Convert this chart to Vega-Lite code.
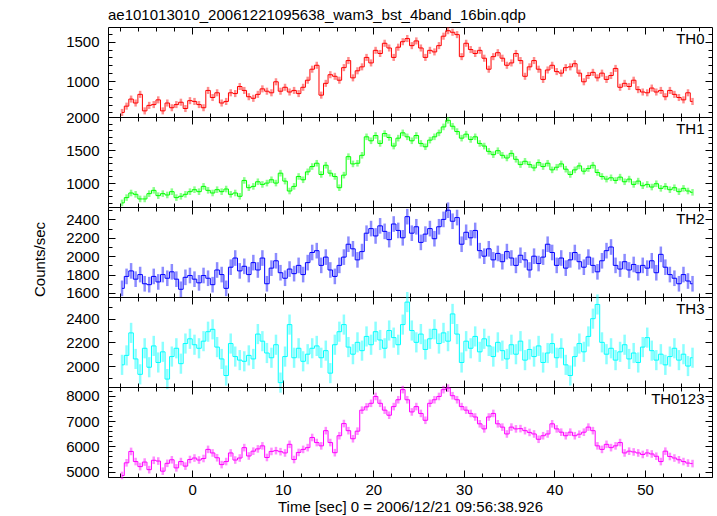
{
"$schema":"https://vega.github.io/schema/vega-lite/v6.json",
"background":"white",
"padding":{"left":31,"top":7,"right":5,"bottom":0},
"autosize":{"type":"pad"},
"spacing":0,
"bounds":"flush",
"datasets":{
"err":[{"k":"a","err":45},{"k":"b","err":50},{"k":"c","err":85},{"k":"d","err":85},{"k":"e","err":150}],
"lc":[
{"t":-7.75,"a":600,"b":700,"c":1650,"d":2010,"e":4850},
{"t":-7.25,"a":680,"b":780,"c":1780,"d":2090,"e":5350},
{"t":-6.75,"a":770,"b":850,"c":1840,"d":2280,"e":5800},
{"t":-6.25,"a":720,"b":830,"c":1750,"d":2060,"e":5400},
{"t":-5.75,"a":830,"b":760,"c":1800,"d":1930,"e":5200},
{"t":-5.25,"a":620,"b":760,"c":1700,"d":2150,"e":5380},
{"t":-4.75,"a":690,"b":840,"c":1690,"d":1990,"e":5080},
{"t":-4.25,"a":700,"b":890,"c":1780,"d":2170,"e":5450},
{"t":-3.75,"a":760,"b":810,"c":1720,"d":2030,"e":5420},
{"t":-3.25,"a":620,"b":840,"c":1800,"d":2120,"e":5020},
{"t":-2.75,"a":720,"b":820,"c":1760,"d":1890,"e":5330},
{"t":-2.25,"a":660,"b":870,"c":1830,"d":2080,"e":5470},
{"t":-1.75,"a":700,"b":780,"c":1750,"d":2150,"e":5150},
{"t":-1.25,"a":730,"b":800,"c":1640,"d":2020,"e":5400},
{"t":-0.75,"a":650,"b":830,"c":1770,"d":2190,"e":5220},
{"t":-0.25,"a":750,"b":870,"c":1790,"d":2230,"e":5480},
{"t":0.25,"a":740,"b":900,"c":1750,"d":2180,"e":5540},
{"t":0.75,"a":700,"b":870,"c":1710,"d":2150,"e":5460},
{"t":1.25,"a":660,"b":950,"c":1790,"d":2210,"e":5520},
{"t":1.75,"a":880,"b":890,"c":1760,"d":2290,"e":5880},
{"t":2.25,"a":790,"b":850,"c":1690,"d":2310,"e":5740},
{"t":2.75,"a":850,"b":900,"c":1850,"d":2160,"e":5550},
{"t":3.25,"a":720,"b":870,"c":1800,"d":2060,"e":5280},
{"t":3.75,"a":740,"b":910,"c":1650,"d":1920,"e":5400},
{"t":4.25,"a":850,"b":830,"c":1880,"d":2190,"e":5740},
{"t":4.75,"a":840,"b":850,"c":1980,"d":2080,"e":5460},
{"t":5.25,"a":930,"b":800,"c":1840,"d":2050,"e":5540},
{"t":5.75,"a":880,"b":1040,"c":1890,"d":2040,"e":5950},
{"t":6.25,"a":800,"b":930,"c":1800,"d":2090,"e":5620},
{"t":6.75,"a":780,"b":950,"c":1930,"d":2060,"e":5810},
{"t":7.25,"a":830,"b":1020,"c":1850,"d":2270,"e":5900},
{"t":7.75,"a":900,"b":980,"c":1980,"d":2210,"e":6020},
{"t":8.25,"a":870,"b":1000,"c":1700,"d":2110,"e":5560},
{"t":8.75,"a":850,"b":1050,"c":1870,"d":2070,"e":5800},
{"t":9.25,"a":990,"b":1000,"c":1950,"d":2180,"e":5830},
{"t":9.75,"a":870,"b":1150,"c":1820,"d":1860,"e":5790},
{"t":10.25,"a":920,"b":1030,"c":1760,"d":2080,"e":5740},
{"t":10.75,"a":860,"b":880,"c":1860,"d":2350,"e":6080},
{"t":11.25,"a":880,"b":950,"c":1810,"d":2070,"e":5480},
{"t":11.75,"a":840,"b":1100,"c":1900,"d":2150,"e":5760},
{"t":12.25,"a":920,"b":1050,"c":1800,"d":2040,"e":5880},
{"t":12.75,"a":1010,"b":1170,"c":1930,"d":2100,"e":5950},
{"t":13.25,"a":1150,"b":1250,"c":2040,"d":2150,"e":6350},
{"t":13.75,"a":1200,"b":1300,"c":2060,"d":2170,"e":6150},
{"t":14.25,"a":820,"b":1130,"c":1900,"d":2070,"e":6020},
{"t":14.75,"a":970,"b":1270,"c":1990,"d":2130,"e":6620},
{"t":15.25,"a":1080,"b":1150,"c":1850,"d":1940,"e":6150},
{"t":15.75,"a":1060,"b":1100,"c":1780,"d":2180,"e":5750},
{"t":16.25,"a":1010,"b":930,"c":1900,"d":2290,"e":6420},
{"t":16.75,"a":1170,"b":1120,"c":1990,"d":2350,"e":6900},
{"t":17.25,"a":1260,"b":1400,"c":2130,"d":2160,"e":6620},
{"t":17.75,"a":1040,"b":1290,"c":2080,"d":2100,"e":6300},
{"t":18.25,"a":1130,"b":1300,"c":1960,"d":2200,"e":6600},
{"t":18.75,"a":1180,"b":1420,"c":2050,"d":2130,"e":7430},
{"t":19.25,"a":1300,"b":1700,"c":2250,"d":2250,"e":7560},
{"t":19.75,"a":1230,"b":1640,"c":2300,"d":2180,"e":7700},
{"t":20.25,"a":1390,"b":1720,"c":2220,"d":2290,"e":7970},
{"t":20.75,"a":1350,"b":1600,"c":2330,"d":2220,"e":7700},
{"t":21.25,"a":1480,"b":1750,"c":2270,"d":2150,"e":7430},
{"t":21.75,"a":1420,"b":1690,"c":2180,"d":2300,"e":7230},
{"t":22.25,"a":1300,"b":1560,"c":2350,"d":2240,"e":7570},
{"t":22.75,"a":1430,"b":1680,"c":2280,"d":2180,"e":7840},
{"t":23.25,"a":1500,"b":1760,"c":2200,"d":2350,"e":8240},
{"t":23.75,"a":1540,"b":1700,"c":2430,"d":2540,"e":7840},
{"t":24.25,"a":1450,"b":1640,"c":2250,"d":2300,"e":7360},
{"t":24.75,"a":1510,"b":1720,"c":2320,"d":2200,"e":7570},
{"t":25.25,"a":1420,"b":1600,"c":2150,"d":2270,"e":7300},
{"t":25.75,"a":1300,"b":1550,"c":2240,"d":2140,"e":7030},
{"t":26.25,"a":1390,"b":1650,"c":2300,"d":2230,"e":7700},
{"t":26.75,"a":1370,"b":1700,"c":2190,"d":2310,"e":7840},
{"t":27.25,"a":1450,"b":1760,"c":2320,"d":2190,"e":7970},
{"t":27.75,"a":1570,"b":1850,"c":2400,"d":2280,"e":8240},
{"t":28.25,"a":1640,"b":1950,"c":2500,"d":2210,"e":8300},
{"t":28.75,"a":1620,"b":1860,"c":2380,"d":2440,"e":8000},
{"t":29.25,"a":1590,"b":1780,"c":2420,"d":2270,"e":7840},
{"t":29.75,"a":1310,"b":1680,"c":2130,"d":2030,"e":7570},
{"t":30.25,"a":1480,"b":1740,"c":2260,"d":2210,"e":7430},
{"t":30.75,"a":1400,"b":1660,"c":2200,"d":2150,"e":7300},
{"t":31.25,"a":1350,"b":1700,"c":2280,"d":2250,"e":7160},
{"t":31.75,"a":1390,"b":1600,"c":2060,"d":2120,"e":6890},
{"t":32.25,"a":1290,"b":1560,"c":2000,"d":2230,"e":6690},
{"t":32.75,"a":1150,"b":1480,"c":2080,"d":2170,"e":7160},
{"t":33.25,"a":1310,"b":1430,"c":1960,"d":2080,"e":7300},
{"t":33.75,"a":1360,"b":1490,"c":2030,"d":2200,"e":6890},
{"t":34.25,"a":1290,"b":1420,"c":1940,"d":2130,"e":6760},
{"t":34.75,"a":1200,"b":1380,"c":2050,"d":2060,"e":6490},
{"t":35.25,"a":1230,"b":1450,"c":1980,"d":2180,"e":6760},
{"t":35.75,"a":1350,"b":1360,"c":1900,"d":2100,"e":6690},
{"t":36.25,"a":1260,"b":1280,"c":2010,"d":2210,"e":6700},
{"t":36.75,"a":1060,"b":1330,"c":1960,"d":2050,"e":6620},
{"t":37.25,"a":1180,"b":1280,"c":1850,"d":2140,"e":6550},
{"t":37.75,"a":1260,"b":1230,"c":2000,"d":2080,"e":6490},
{"t":38.25,"a":1150,"b":1310,"c":1920,"d":2170,"e":6280},
{"t":38.75,"a":1020,"b":1250,"c":1990,"d":2030,"e":6420},
{"t":39.25,"a":1140,"b":1300,"c":2130,"d":2110,"e":6490},
{"t":39.75,"a":1200,"b":1200,"c":2040,"d":2190,"e":6890},
{"t":40.25,"a":1120,"b":1240,"c":1900,"d":2070,"e":6690},
{"t":40.75,"a":1100,"b":1290,"c":1980,"d":2150,"e":6560},
{"t":41.25,"a":1170,"b":1210,"c":1870,"d":2010,"e":6420},
{"t":41.75,"a":1180,"b":1130,"c":1960,"d":1920,"e":6560},
{"t":42.25,"a":1220,"b":1200,"c":2040,"d":2080,"e":6420},
{"t":42.75,"a":1100,"b":1260,"c":1940,"d":2190,"e":6480},
{"t":43.25,"a":990,"b":1180,"c":1880,"d":2120,"e":6560},
{"t":43.75,"a":1070,"b":1220,"c":1990,"d":2250,"e":6760},
{"t":44.25,"a":1110,"b":1270,"c":1900,"d":2400,"e":6620},
{"t":44.75,"a":1040,"b":1160,"c":1830,"d":2520,"e":6020},
{"t":45.25,"a":1100,"b":1100,"c":1950,"d":2200,"e":5880},
{"t":45.75,"a":1020,"b":1060,"c":2060,"d":2100,"e":6080},
{"t":46.25,"a":1070,"b":1080,"c":2100,"d":2150,"e":5950},
{"t":46.75,"a":1160,"b":1040,"c":1900,"d":2050,"e":6020},
{"t":47.25,"a":920,"b":1090,"c":1860,"d":2120,"e":6150},
{"t":47.75,"a":970,"b":1020,"c":1940,"d":2180,"e":5740},
{"t":48.25,"a":930,"b":1060,"c":1850,"d":2060,"e":5810},
{"t":48.75,"a":1010,"b":980,"c":1910,"d":2110,"e":5780},
{"t":49.25,"a":890,"b":1030,"c":1820,"d":2030,"e":5740},
{"t":49.75,"a":860,"b":960,"c":1900,"d":2160,"e":5680},
{"t":50.25,"a":850,"b":980,"c":1870,"d":2240,"e":5740},
{"t":50.75,"a":910,"b":940,"c":1950,"d":2130,"e":5700},
{"t":51.25,"a":860,"b":990,"c":1820,"d":2050,"e":5610},
{"t":51.75,"a":880,"b":920,"c":2020,"d":2100,"e":5400},
{"t":52.25,"a":800,"b":950,"c":1880,"d":2010,"e":5810},
{"t":52.75,"a":880,"b":900,"c":1800,"d":2080,"e":5600},
{"t":53.25,"a":830,"b":930,"c":1760,"d":2150,"e":5540},
{"t":53.75,"a":790,"b":870,"c":1700,"d":2050,"e":5470},
{"t":54.25,"a":760,"b":920,"c":1800,"d":2100,"e":5400},
{"t":54.75,"a":850,"b":880,"c":1730,"d":2000,"e":5340},
{"t":55.25,"a":740,"b":860,"c":1700,"d":2070,"e":5320}
]},
"vconcat":[
{"width":604,"height":90,"data":{"name":"lc"},
 "transform":[{"fold":["a","b","c","d","e"],"as":["k","v"]},{"filter":"datum.k==='a'"},{"lookup":"k","from":{"data":{"name":"err"},"key":"k","fields":["err"]}}],
 "title":{"text":"ae101013010_20061221095638_wam3_bst_4band_16bin.qdp","anchor":"start","frame":"group","offset":-9,"baseline":"alphabetic","fontSize":15,"fontWeight":"normal","font":"Liberation Sans","color":"#000"},
 "resolve":{"axis":{"x":"independent","y":"independent"}},
 "layer":[
  {"mark":{"type":"errorbar","color":"#ff0000","opacity":0.45,"thickness":2.5},
   "encoding":{"x":{"field":"t","type":"quantitative","scale":{"domain":[-9.3,57.4],"nice":false,"zero":false},"axis":null},
    "y":{"field":"v","type":"quantitative","scale":{"domain":[542,1687],"nice":false,"zero":false},"axis":{"orient":"left","values":[1000,1500],"format":"d","ticks":false,"labelPadding":9,"title":null}},
    "yError":{"field":"err"}}},
  {"mark":{"type":"line","interpolate":"step","color":"#ff0000","strokeWidth":1},
   "encoding":{"x":{"field":"t","type":"quantitative","axis":{"orient":"bottom","values":[0,10,20,30,40,50],"labels":false,"tickSize":-7,"title":null}},
    "y":{"field":"v","type":"quantitative","axis":{"orient":"left","values":[1000,1500],"labels":false,"tickSize":-7,"title":null}}}},
  {"mark":{"type":"line","opacity":0},
   "encoding":{"x":{"field":"t","type":"quantitative","axis":{"orient":"bottom","values":[-8,-6,-4,-2,0,2,4,6,8,10,12,14,16,18,20,22,24,26,28,30,32,34,36,38,40,42,44,46,48,50,52,54,56],"labels":false,"tickSize":-4,"title":null}},
    "y":{"field":"v","type":"quantitative","axis":{"orient":"left","values":[600,700,800,900,1000,1100,1200,1300,1400,1500,1600],"labels":false,"tickSize":-4,"title":null}}}},
  {"mark":{"type":"line","opacity":0},
   "encoding":{"x":{"field":"t","type":"quantitative","axis":{"orient":"top","values":[0,10,20,30,40,50],"labels":false,"tickSize":-7,"title":null}},
    "y":{"field":"v","type":"quantitative","axis":{"orient":"right","values":[1000,1500],"labels":false,"tickSize":-7,"title":"TH0","titleAngle":0,"titleAlign":"right","titleBaseline":"alphabetic","titleX":-8,"titleY":16}}}},
  {"mark":{"type":"line","opacity":0},
   "encoding":{"x":{"field":"t","type":"quantitative","axis":{"orient":"top","values":[-8,-6,-4,-2,0,2,4,6,8,10,12,14,16,18,20,22,24,26,28,30,32,34,36,38,40,42,44,46,48,50,52,54,56],"labels":false,"tickSize":-4,"title":null}},
    "y":{"field":"v","type":"quantitative","axis":{"orient":"right","values":[600,700,800,900,1000,1100,1200,1300,1400,1500,1600],"labels":false,"tickSize":-4,"title":null}}}}
 ]},
{"width":604,"height":90,"data":{"name":"lc"},
 "transform":[{"fold":["a","b","c","d","e"],"as":["k","v"]},{"filter":"datum.k==='b'"},{"lookup":"k","from":{"data":{"name":"err"},"key":"k","fields":["err"]}}],
 "resolve":{"axis":{"x":"independent","y":"independent"}},
 "layer":[
  {"mark":{"type":"errorbar","color":"#00ff00","opacity":0.45,"thickness":2.5},
   "encoding":{"x":{"field":"t","type":"quantitative","scale":{"domain":[-9.3,57.4],"nice":false,"zero":false},"axis":null},
    "y":{"field":"v","type":"quantitative","scale":{"domain":[638,2000],"nice":false,"zero":false},"axis":{"orient":"left","values":[1000,1500,2000],"format":"d","ticks":false,"labelPadding":9,"title":null}},
    "yError":{"field":"err"}}},
  {"mark":{"type":"line","interpolate":"step","color":"#00ff00","strokeWidth":1},
   "encoding":{"x":{"field":"t","type":"quantitative","axis":{"orient":"bottom","values":[0,10,20,30,40,50],"labels":false,"tickSize":-7,"title":null}},
    "y":{"field":"v","type":"quantitative","axis":{"orient":"left","values":[1000,1500,2000],"labels":false,"tickSize":-7,"title":null}}}},
  {"mark":{"type":"line","opacity":0},
   "encoding":{"x":{"field":"t","type":"quantitative","axis":{"orient":"bottom","values":[-8,-6,-4,-2,0,2,4,6,8,10,12,14,16,18,20,22,24,26,28,30,32,34,36,38,40,42,44,46,48,50,52,54,56],"labels":false,"tickSize":-4,"title":null}},
    "y":{"field":"v","type":"quantitative","axis":{"orient":"left","values":[700,800,900,1000,1100,1200,1300,1400,1500,1600,1700,1800,1900,2000],"labels":false,"tickSize":-4,"title":null}}}},
  {"mark":{"type":"line","opacity":0},
   "encoding":{"x":{"field":"t","type":"quantitative","axis":{"orient":"top","values":[0,10,20,30,40,50],"labels":false,"tickSize":-7,"title":null}},
    "y":{"field":"v","type":"quantitative","axis":{"orient":"right","values":[1000,1500,2000],"labels":false,"tickSize":-7,"title":"TH1","titleAngle":0,"titleAlign":"right","titleBaseline":"alphabetic","titleX":-8,"titleY":16}}}},
  {"mark":{"type":"line","opacity":0},
   "encoding":{"x":{"field":"t","type":"quantitative","axis":{"orient":"top","values":[-8,-6,-4,-2,0,2,4,6,8,10,12,14,16,18,20,22,24,26,28,30,32,34,36,38,40,42,44,46,48,50,52,54,56],"labels":false,"tickSize":-4,"title":null}},
    "y":{"field":"v","type":"quantitative","axis":{"orient":"right","values":[700,800,900,1000,1100,1200,1300,1400,1500,1600,1700,1800,1900,2000],"labels":false,"tickSize":-4,"title":null}}}}
 ]},
{"width":604,"height":90,"data":{"name":"lc"},
 "transform":[{"fold":["a","b","c","d","e"],"as":["k","v"]},{"filter":"datum.k==='c'"},{"lookup":"k","from":{"data":{"name":"err"},"key":"k","fields":["err"]}}],
 "resolve":{"axis":{"x":"independent","y":"independent"}},
 "layer":[
  {"mark":{"type":"errorbar","color":"#0000ff","opacity":0.45,"thickness":2.5},
   "encoding":{"x":{"field":"t","type":"quantitative","scale":{"domain":[-9.3,57.4],"nice":false,"zero":false},"axis":null},
    "y":{"field":"v","type":"quantitative","scale":{"domain":[1556,2535],"nice":false,"zero":false},"axis":{"orient":"left","values":[1600,1800,2000,2200,2400],"format":"d","ticks":false,"labelPadding":9,"title":"Counts/sec","titleX":-64,"titleY":52,"titleAngle":-90,"titleBaseline":"alphabetic","titleAlign":"center"}},
    "yError":{"field":"err"}}},
  {"mark":{"type":"line","interpolate":"step","color":"#0000ff","strokeWidth":1},
   "encoding":{"x":{"field":"t","type":"quantitative","axis":{"orient":"bottom","values":[0,10,20,30,40,50],"labels":false,"tickSize":-7,"title":null}},
    "y":{"field":"v","type":"quantitative","axis":{"orient":"left","values":[1600,1800,2000,2200,2400],"labels":false,"tickSize":-7,"title":null}}}},
  {"mark":{"type":"line","opacity":0},
   "encoding":{"x":{"field":"t","type":"quantitative","axis":{"orient":"bottom","values":[-8,-6,-4,-2,0,2,4,6,8,10,12,14,16,18,20,22,24,26,28,30,32,34,36,38,40,42,44,46,48,50,52,54,56],"labels":false,"tickSize":-4,"title":null}},
    "y":{"field":"v","type":"quantitative","axis":{"orient":"left","values":[1600,1700,1800,1900,2000,2100,2200,2300,2400,2500],"labels":false,"tickSize":-4,"title":null}}}},
  {"mark":{"type":"line","opacity":0},
   "encoding":{"x":{"field":"t","type":"quantitative","axis":{"orient":"top","values":[0,10,20,30,40,50],"labels":false,"tickSize":-7,"title":null}},
    "y":{"field":"v","type":"quantitative","axis":{"orient":"right","values":[1600,1800,2000,2200,2400],"labels":false,"tickSize":-7,"title":"TH2","titleAngle":0,"titleAlign":"right","titleBaseline":"alphabetic","titleX":-8,"titleY":16}}}},
  {"mark":{"type":"line","opacity":0},
   "encoding":{"x":{"field":"t","type":"quantitative","axis":{"orient":"top","values":[-8,-6,-4,-2,0,2,4,6,8,10,12,14,16,18,20,22,24,26,28,30,32,34,36,38,40,42,44,46,48,50,52,54,56],"labels":false,"tickSize":-4,"title":null}},
    "y":{"field":"v","type":"quantitative","axis":{"orient":"right","values":[1600,1700,1800,1900,2000,2100,2200,2300,2400,2500],"labels":false,"tickSize":-4,"title":null}}}}
 ]},
{"width":604,"height":90,"data":{"name":"lc"},
 "transform":[{"fold":["a","b","c","d","e"],"as":["k","v"]},{"filter":"datum.k==='d'"},{"lookup":"k","from":{"data":{"name":"err"},"key":"k","fields":["err"]}}],
 "resolve":{"axis":{"x":"independent","y":"independent"}},
 "layer":[
  {"mark":{"type":"errorbar","color":"#00ffff","opacity":0.45,"thickness":2.5},
   "encoding":{"x":{"field":"t","type":"quantitative","scale":{"domain":[-9.3,57.4],"nice":false,"zero":false},"axis":null},
    "y":{"field":"v","type":"quantitative","scale":{"domain":[1823,2583],"nice":false,"zero":false},"axis":{"orient":"left","values":[2000,2200,2400],"format":"d","ticks":false,"labelPadding":9,"title":null}},
    "yError":{"field":"err"}}},
  {"mark":{"type":"line","interpolate":"step","color":"#00ffff","strokeWidth":1},
   "encoding":{"x":{"field":"t","type":"quantitative","axis":{"orient":"bottom","values":[0,10,20,30,40,50],"labels":false,"tickSize":-7,"title":null}},
    "y":{"field":"v","type":"quantitative","axis":{"orient":"left","values":[2000,2200,2400],"labels":false,"tickSize":-7,"title":null}}}},
  {"mark":{"type":"line","opacity":0},
   "encoding":{"x":{"field":"t","type":"quantitative","axis":{"orient":"bottom","values":[-8,-6,-4,-2,0,2,4,6,8,10,12,14,16,18,20,22,24,26,28,30,32,34,36,38,40,42,44,46,48,50,52,54,56],"labels":false,"tickSize":-4,"title":null}},
    "y":{"field":"v","type":"quantitative","axis":{"orient":"left","values":[1900,2000,2100,2200,2300,2400,2500],"labels":false,"tickSize":-4,"title":null}}}},
  {"mark":{"type":"line","opacity":0},
   "encoding":{"x":{"field":"t","type":"quantitative","axis":{"orient":"top","values":[0,10,20,30,40,50],"labels":false,"tickSize":-7,"title":null}},
    "y":{"field":"v","type":"quantitative","axis":{"orient":"right","values":[2000,2200,2400],"labels":false,"tickSize":-7,"title":"TH3","titleAngle":0,"titleAlign":"right","titleBaseline":"alphabetic","titleX":-8,"titleY":16}}}},
  {"mark":{"type":"line","opacity":0},
   "encoding":{"x":{"field":"t","type":"quantitative","axis":{"orient":"top","values":[-8,-6,-4,-2,0,2,4,6,8,10,12,14,16,18,20,22,24,26,28,30,32,34,36,38,40,42,44,46,48,50,52,54,56],"labels":false,"tickSize":-4,"title":null}},
    "y":{"field":"v","type":"quantitative","axis":{"orient":"right","values":[1900,2000,2100,2200,2300,2400,2500],"labels":false,"tickSize":-4,"title":null}}}}
 ]},
{"width":604,"height":90,"data":{"name":"lc"},
 "transform":[{"fold":["a","b","c","d","e"],"as":["k","v"]},{"filter":"datum.k==='e'"},{"lookup":"k","from":{"data":{"name":"err"},"key":"k","fields":["err"]}}],
 "resolve":{"axis":{"x":"independent","y":"independent"}},
 "layer":[
  {"mark":{"type":"errorbar","color":"#ff00ff","opacity":0.45,"thickness":2.5},
   "encoding":{"x":{"field":"t","type":"quantitative","scale":{"domain":[-9.3,57.4],"nice":false,"zero":false},"axis":{"orient":"bottom","values":[0,10,20,30,40,50],"format":"d","ticks":false,"labelPadding":5,"title":"Time [sec] 0 = 2006/12/21 09:56:38.926","titlePadding":2}},
    "y":{"field":"v","type":"quantitative","scale":{"domain":[4790,8344],"nice":false,"zero":false},"axis":{"orient":"left","values":[5000,6000,7000,8000],"format":"d","ticks":false,"labelPadding":9,"title":null}},
    "yError":{"field":"err"}}},
  {"mark":{"type":"line","interpolate":"step","color":"#ff00ff","strokeWidth":1},
   "encoding":{"x":{"field":"t","type":"quantitative","axis":{"orient":"bottom","values":[0,10,20,30,40,50],"labels":false,"tickSize":-7,"title":null}},
    "y":{"field":"v","type":"quantitative","axis":{"orient":"left","values":[5000,6000,7000,8000],"labels":false,"tickSize":-7,"title":null}}}},
  {"mark":{"type":"line","opacity":0},
   "encoding":{"x":{"field":"t","type":"quantitative","axis":{"orient":"bottom","values":[-8,-6,-4,-2,0,2,4,6,8,10,12,14,16,18,20,22,24,26,28,30,32,34,36,38,40,42,44,46,48,50,52,54,56],"labels":false,"tickSize":-4,"title":null}},
    "y":{"field":"v","type":"quantitative","axis":{"orient":"left","values":[4800,5000,5200,5400,5600,5800,6000,6200,6400,6600,6800,7000,7200,7400,7600,7800,8000,8200],"labels":false,"tickSize":-4,"title":null}}}},
  {"mark":{"type":"line","opacity":0},
   "encoding":{"x":{"field":"t","type":"quantitative","axis":{"orient":"top","values":[0,10,20,30,40,50],"labels":false,"tickSize":-7,"title":null}},
    "y":{"field":"v","type":"quantitative","axis":{"orient":"right","values":[5000,6000,7000,8000],"labels":false,"tickSize":-7,"title":"TH0123","titleAngle":0,"titleAlign":"right","titleBaseline":"alphabetic","titleX":-8,"titleY":16}}}},
  {"mark":{"type":"line","opacity":0},
   "encoding":{"x":{"field":"t","type":"quantitative","axis":{"orient":"top","values":[-8,-6,-4,-2,0,2,4,6,8,10,12,14,16,18,20,22,24,26,28,30,32,34,36,38,40,42,44,46,48,50,52,54,56],"labels":false,"tickSize":-4,"title":null}},
    "y":{"field":"v","type":"quantitative","axis":{"orient":"right","values":[4800,5000,5200,5400,5600,5800,6000,6200,6400,6600,6800,7000,7200,7400,7600,7800,8000,8200],"labels":false,"tickSize":-4,"title":null}}}}
 ]}
],
"config":{"font":"Liberation Sans","view":{"stroke":"#000","strokeWidth":1},
 "axis":{"domain":false,"grid":false,"tickColor":"#000","tickWidth":1,"labelColor":"#000","labelFontSize":15,"labelFont":"Liberation Sans","titleFont":"Liberation Sans","titleFontSize":15,"titleFontWeight":"normal","titleColor":"#000","labelOverlap":false,"labelFlush":false},
 "concat":{"spacing":0}}
}
